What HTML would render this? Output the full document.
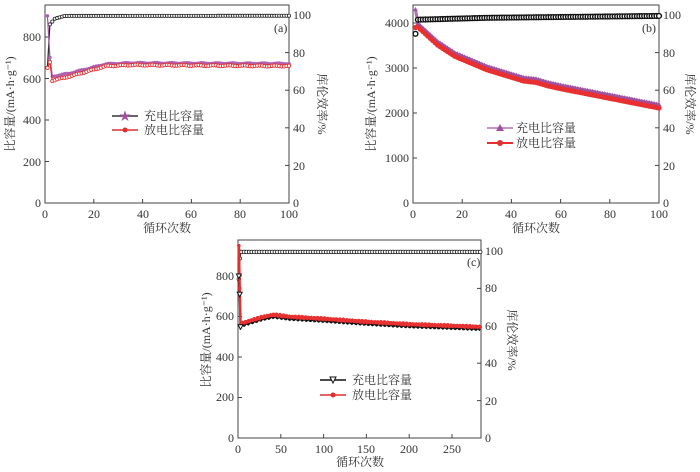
<!DOCTYPE html>
<html><head><meta charset="utf-8"><style>
body{margin:0;background:#fff}
svg text{font-family:"Liberation Serif","Noto Serif CJK SC",serif;font-size:12px;fill:#333}
</style></head><body>
<svg id="s" width="700" height="467" xmlns="http://www.w3.org/2000/svg">
<g stroke="#444" fill="none" stroke-width="1">
<rect x="45" y="5" width="244" height="198"/>
<rect x="413" y="5" width="246" height="198"/>
<rect x="238" y="240" width="243" height="198"/>
</g>
<g id="ticks" stroke="#444" stroke-width="1"></g>
<g id="data"></g>
<!-- panel a labels -->
<g text-anchor="end">
<text x="41" y="207">0</text><text x="41" y="166">200</text><text x="41" y="124">400</text><text x="41" y="83">600</text><text x="41" y="41">800</text>
</g>
<g>
<text x="293" y="207">0</text><text x="293" y="170">20</text><text x="293" y="132">40</text><text x="293" y="94">60</text><text x="293" y="57">80</text><text x="293" y="19">100</text>
</g>
<g text-anchor="middle">
<text x="45" y="218">0</text><text x="94" y="218">20</text><text x="143" y="218">40</text><text x="191" y="218">60</text><text x="240" y="218">80</text><text x="289" y="218">100</text>
<text x="167" y="232">循环次数</text>
</g>
<text x="274" y="32" font-size="11">(a)</text>
<text transform="translate(14,104) rotate(-90)" text-anchor="middle" font-size="11">比容量/(mA·h·g⁻¹)</text>
<text transform="translate(318,104) rotate(90)" text-anchor="middle" font-size="12">库伦效率/%</text>
<!-- panel b -->
<g text-anchor="end">
<text x="409" y="207">0</text><text x="409" y="162">1000</text><text x="409" y="117">2000</text><text x="409" y="72">3000</text><text x="409" y="27">4000</text>
</g>
<g>
<text x="663" y="207">0</text><text x="663" y="170">20</text><text x="663" y="132">40</text><text x="663" y="94">60</text><text x="663" y="57">80</text><text x="663" y="19">100</text>
</g>
<g text-anchor="middle">
<text x="413" y="218">0</text><text x="462" y="218">20</text><text x="511" y="218">40</text><text x="561" y="218">60</text><text x="610" y="218">80</text><text x="659" y="218">100</text>
<text x="536" y="232">循环次数</text>
</g>
<text x="642" y="32" font-size="11">(b)</text>
<text transform="translate(375,104) rotate(-90)" text-anchor="middle" font-size="11">比容量/(mA·h·g⁻¹)</text>
<text transform="translate(686,104) rotate(90)" text-anchor="middle">库伦效率/%</text>
<!-- panel c -->
<g text-anchor="end">
<text x="234" y="442">0</text><text x="234" y="401">200</text><text x="234" y="361">400</text><text x="234" y="320">600</text><text x="234" y="280">800</text>
</g>
<g>
<text x="485" y="442">0</text><text x="485" y="405">20</text><text x="485" y="367">40</text><text x="485" y="330">60</text><text x="485" y="292">80</text><text x="485" y="255">100</text>
</g>
<g text-anchor="middle">
<text x="238" y="453">0</text><text x="281" y="453">50</text><text x="324" y="453">100</text><text x="366" y="453">150</text><text x="409" y="453">200</text><text x="452" y="453">250</text>
<text x="360" y="466">循环次数</text>
</g>
<text x="467" y="266" font-size="11">(c)</text>
<text transform="translate(210,340) rotate(-90)" text-anchor="middle" font-size="11">比容量/(mA·h·g⁻¹)</text>
<text transform="translate(508,340) rotate(90)" text-anchor="middle">库伦效率/%</text>
<!-- legends -->
<line x1="112" y1="116" x2="138" y2="116" stroke="#333" stroke-width="1.5"/><text x="125" y="120" text-anchor="middle" fill="#a050a0" style="fill:#a050a0">★</text>
<text x="144" y="120">充电比容量</text>
<line x1="112" y1="130" x2="138" y2="130" stroke="#e03030" stroke-width="1.5"/><circle cx="125" cy="130" r="2.5" fill="#e03030"/>
<text x="144" y="134">放电比容量</text>
<line x1="487" y1="128" x2="513" y2="128" stroke="#b070b0" stroke-width="1.5"/><polygon points="500,124 504,131 496,131" fill="#a050a0"/>
<text x="516" y="132">充电比容量</text>
<line x1="487" y1="143" x2="513" y2="143" stroke="#e03030" stroke-width="2"/><circle cx="500" cy="143" r="3" fill="#e03030"/>
<text x="516" y="147">放电比容量</text>
<line x1="320" y1="380" x2="346" y2="380" stroke="#111" stroke-width="1.5"/><polygon points="330,377 336,377 333,383" fill="#fff" stroke="#111"/>
<text x="352" y="384">充电比容量</text>
<line x1="320" y1="395" x2="346" y2="395" stroke="#e03030" stroke-width="1.5"/><circle cx="333" cy="395" r="2.5" fill="#e03030"/>
<text x="352" y="399">放电比容量</text>
</svg>
<script>
const NS="http://www.w3.org/2000/svg",d=document.getElementById("data"),tk=document.getElementById("ticks");
function el(t,a,p){const e=document.createElementNS(NS,t);for(const k in a)e.setAttribute(k,a[k]);(p||d).appendChild(e);return e}
function tick(x1,y1,x2,y2){el("line",{x1,y1,x2,y2},tk)}
// ticks
[[45,289,205,5,100],[413,659,205,5,100]].forEach(([x0,x1,yb,yt,n])=>{for(let i=0;i<=5;i++){let x=x0+(x1-x0)*i/5;tick(x,203,x,199);}});
for(let i=0;i<=5;i++){let x=238+i*50*0.856;tick(x,438,x,434);}
for(let i=0;i<=4;i++){tick(45,203-i*41.5,49,203-i*41.5);tick(413,203-i*45,417,203-i*45);tick(238,438-i*40.5,242,438-i*40.5);}
for(let i=0;i<=5;i++){tick(289,203-i*37.6,285,203-i*37.6);tick(659,203-i*37.6,655,203-i*37.6);tick(481,438-i*37.4,477,438-i*37.4);}
function poly(pts,col,w){el("polyline",{points:pts.map(p=>p.join(",")).join(" "),fill:"none",stroke:col,"stroke-width":w||1.2})}
function marks(pts,f){pts.forEach(p=>f(p[0],p[1]))}
function interp(k,arr){for(let i=0;i<arr.length-1;i++){if(k<=arr[i+1][0]){let a=arr[i],b=arr[i+1];return a[1]+(b[1]-a[1])*(k-a[0])/(b[0]-a[0]);}}return arr[arr.length-1][1]}
// panel a
const ax=n=>45+n*2.44, ayL=v=>203-v*41.5/200, ayR=v=>203-v*1.88;
let aC=[],aD=[],aE=[];
for(let n=1;n<=100;n++){
 aC.push([ax(n),ayL(interp(n,[[1,900],[2,700],[3,610],[10,625],[25,670],[35,675],[100,672]])+Math.sin(n)*2)]);
 aD.push([ax(n),ayL(interp(n,[[1,650],[2,680],[3,590],[10,610],[25,660],[35,665],[100,660]])+Math.cos(n)*2)]);
 aE.push([ax(n),ayR(interp(n,[[1,72],[2,95],[4,98],[8,99.5],[100,99.6]]))]);
}
poly(aE,"#222");marks(aE,(x,y)=>el("circle",{cx:x,cy:y,r:1.6,fill:"#fff",stroke:"#222","stroke-width":0.8}));
poly(aC,"#a050a0");marks(aC,(x,y)=>el("circle",{cx:x,cy:y,r:1.8,fill:"#b060b0"}));
poly(aD,"#e03030");marks(aD,(x,y)=>el("circle",{cx:x,cy:y,r:1.7,fill:"#fff",stroke:"#e03030","stroke-width":0.9}));
// panel b
const bx=n=>413+n*2.46, byL=v=>203-v*0.045, byR=v=>203-v*1.88;
let bC=[],bD=[],bE=[];
const bcurve=[[1,4000],[5,3800],[10,3550],[17,3300],[30,3000],[45,2750],[50,2720],[55,2640],[60,2580],[100,2150]];
for(let n=1;n<=100;n++){
 let v=interp(n,bcurve);
 bC.push([bx(n),byL(n==1?4300:v+40)]);bD.push([bx(n),byL(n==1?3900:v-40)]);
 bE.push([bx(n),byR(n==1?90:interp(n,[[2,97.5],[30,98.5],[100,99.5]]))]);
}
poly(bC,"#b070b0",3);marks(bC,(x,y)=>el("polygon",{points:`${x},${y-2.5} ${x+2.3},${y+1.5} ${x-2.3},${y+1.5}`,fill:"#a050a0"}));
poly(bD,"#e03030",3);marks(bD,(x,y)=>el("circle",{cx:x,cy:y,r:2.6,fill:"#e83030"}));
marks(bE,(x,y)=>el("circle",{cx:x,cy:y,r:2.4,fill:"#fff",stroke:"#111","stroke-width":1.4}));
// panel c
const cx=n=>238+n*0.856, cyL=v=>438-v*40.5/200, cyR=v=>438-v*1.87;
let cC=[],cD=[],cE=[];
const ccurve=[[3,560],[10,570],[30,595],[42,605],[60,595],[100,585],[150,570],[200,558],[283,545]];
for(let n=1;n<=283;n++){
 let v=interp(n,ccurve);
 cD.push([cx(n),cyL(n==1?950:n==2?740:v+4+Math.sin(n*1.7)*4)]);
 cC.push([cx(n),cyL(n==1?800:n==2?710:v-8+Math.cos(n*1.3)*4)]);
 cE.push([cx(n),cyR(n==1?85:n==2?96:99.5)]);
}
poly(cE,"#111",1.5);marks(cE.filter((p,i)=>i<4||i%3==0),(x,y)=>el("circle",{cx:x,cy:y,r:1.8,fill:"#fff",stroke:"#111","stroke-width":0.8}));
poly(cC,"#111",2);
poly(cD,"#e03030",2.5);marks(cD.filter((p,i)=>i<3||i%2==0),(x,y)=>el("circle",{cx:x,cy:y,r:1.8,fill:"#e83030"}));
marks(cC.slice(0,3),(x,y)=>el("polygon",{points:`${x-2.5},${y-2} ${x+2.5},${y-2} ${x},${y+2.5}`,fill:"#fff",stroke:"#111"}));
</script>
</body></html>
